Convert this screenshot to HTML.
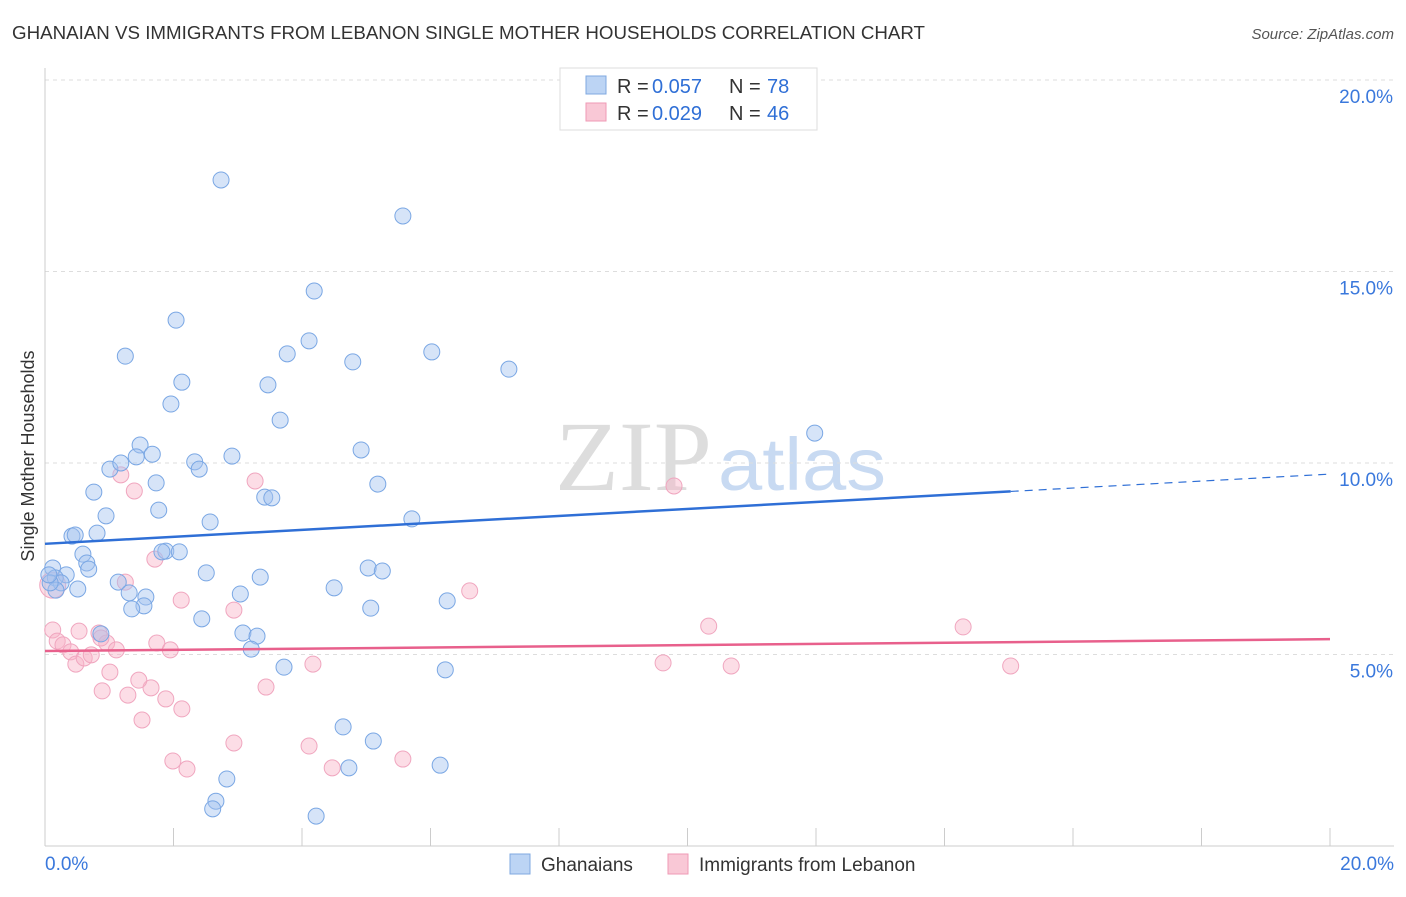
<!DOCTYPE html>
<html><head><meta charset="utf-8"><style>
body{margin:0;background:#fff;font-family:"Liberation Sans",sans-serif;}
</style></head><body>
<svg id="chart" width="1406" height="892" xmlns="http://www.w3.org/2000/svg" font-family="Liberation Sans, sans-serif">
<text x="12" y="39" font-size="18" fill="#333" textLength="913" lengthAdjust="spacingAndGlyphs">GHANAIAN VS IMMIGRANTS FROM LEBANON SINGLE MOTHER HOUSEHOLDS CORRELATION CHART</text>
<text x="1394" y="39" font-size="15" fill="#555" font-style="italic" text-anchor="end">Source: ZipAtlas.com</text>
<text x="555" y="490" font-size="100" fill="#ddd" font-family="Liberation Serif, serif" textLength="157" lengthAdjust="spacingAndGlyphs">ZIP</text>
<text x="718" y="490" font-size="74" fill="#c8daf2" textLength="168" lengthAdjust="spacingAndGlyphs">atlas</text>
<text transform="translate(34,456) rotate(-90)" font-size="18" fill="#333" text-anchor="middle">Single Mother Households</text>
<g id="grid"></g><g id="marks"></g>
<g>
<rect x="560" y="68" width="257" height="62" fill="#fff" stroke="#ddd"/>
<rect x="586" y="76" width="20" height="18" fill="#bcd4f4" stroke="#7fa8e0"/>
<rect x="586" y="103" width="20" height="18" fill="#f9c8d6" stroke="#ef9ab5"/>
<text x="617" y="93" font-size="20" fill="#333">R =</text><text x="652" y="93" font-size="20" fill="#2f6fd6">0.057</text>
<text x="729" y="93" font-size="20" fill="#333">N =</text><text x="767" y="93" font-size="20" fill="#2f6fd6">78</text>
<text x="617" y="120" font-size="20" fill="#333">R =</text><text x="652" y="120" font-size="20" fill="#2f6fd6">0.029</text>
<text x="729" y="120" font-size="20" fill="#333">N =</text><text x="767" y="120" font-size="20" fill="#2f6fd6">46</text>
</g>
<g>
<rect x="510" y="854" width="20" height="20" fill="#bcd4f4" stroke="#7fa8e0"/>
<text x="541" y="871" font-size="19" fill="#333">Ghanaians</text>
<rect x="668" y="854" width="20" height="20" fill="#f9c8d6" stroke="#ef9ab5"/>
<text x="699" y="871" font-size="19" fill="#333">Immigrants from Lebanon</text>
</g>
</svg>
<script>
const yTicks=[5,10,15,20];
const yTickLabels=["5.0%","10.0%","15.0%","20.0%"];
const blueX=[2.74,5.57,4.19,2.04,1.25,3.77,4.11,4.79,6.02,7.22,2.13,3.47,1.96,3.66,1.48,11.98,1.42,1.67,2.91,4.92,2.33,1.01,1.18,2.40,1.73,5.18,0.76,3.42,3.53,1.77,0.95,2.57,5.71,0.42,0.47,0.81,1.88,2.09,1.82,0.59,0.65,0.68,5.03,5.25,0.12,0.33,0.16,0.25,0.17,0.51,1.14,2.51,3.35,1.31,1.57,3.04,4.50,1.54,1.35,5.07,6.26,2.44,0.87,3.08,3.30,3.21,3.72,6.23,4.64,5.11,4.73,6.15,2.83,2.66,2.61,4.22,0.08,0.06];
const blueY=[17.39,16.45,14.49,13.73,12.79,12.85,13.19,12.64,12.90,12.45,12.11,12.04,11.54,11.12,10.47,10.78,10.16,10.23,10.18,10.34,10.03,9.84,10.00,9.84,9.48,9.45,9.24,9.11,9.09,8.77,8.62,8.46,8.54,8.09,8.12,8.17,7.70,7.68,7.68,7.62,7.39,7.23,7.26,7.18,7.26,7.08,7.00,6.87,6.68,6.71,6.89,7.13,7.02,6.61,6.50,6.58,6.74,6.27,6.19,6.21,6.40,5.93,5.54,5.56,5.48,5.14,4.67,4.60,3.11,2.74,2.04,2.11,1.75,1.17,0.97,0.78,6.87,7.08];
const pinkX=[0.12,0.12,0.19,0.28,0.53,0.40,0.48,0.61,0.72,0.84,0.96,1.11,1.18,1.39,1.25,1.01,0.89,1.29,1.65,1.46,1.88,2.13,1.51,1.74,1.95,1.71,2.12,2.94,3.27,3.44,2.94,4.17,4.11,4.47,1.99,2.21,5.57,6.61,9.79,10.33,9.62,10.68,14.29,15.03,0.87];
const pinkY=[6.81,5.64,5.35,5.25,5.61,5.07,4.75,4.91,4.99,5.56,5.30,5.12,9.69,9.27,6.89,4.54,4.05,3.94,4.13,4.33,3.84,3.58,3.29,5.30,5.12,7.49,6.42,6.16,9.53,4.15,2.69,4.75,2.61,2.04,2.22,2.01,2.27,6.66,9.40,5.74,4.78,4.70,5.72,4.70,5.43];
const blueTrend=[7.89,9.71], pinkTrend=[5.09,5.40], blueSolidEnd=15.03;
const NS="http://www.w3.org/2000/svg";
const sx=v=>45+v*64.25, sy=v=>846-v*38.3;
const grid=document.getElementById('grid'), marks=document.getElementById('marks');
function mk(p,tag,a){const e=document.createElementNS(NS,tag);for(const k in a)e.setAttribute(k,a[k]);p.appendChild(e);return e;}
yTicks.forEach((t,i)=>{
 const l=mk(grid,'line',{x1:45,x2:1394,y1:sy(t),y2:sy(t),stroke:'#ddd','stroke-dasharray':'4,4'});
 
 
 const tx=mk(grid,'text',{x:1393,y:sy(t)+23,'font-size':19,fill:'#3a78dc','text-anchor':'end'});
 tx.textContent=yTickLabels[i];
 
 
});
const ax=mk(grid,'line',{x1:45,x2:1394,y1:846,y2:846,stroke:'#ccc'});


const ay=mk(grid,'line',{x1:45,x2:45,y1:68,y2:846,stroke:'#ccc'});


for(let i=2;i<=20;i+=2){const t=mk(grid,'line',{x1:sx(i),x2:sx(i),y1:828,y2:846,stroke:'#ccc'});
 
 }
[[0,'0.0%','start',45],[20,'20.0%','end',1394]].forEach(d=>{const t=mk(grid,'text',{x:d[3],y:870,'font-size':19,fill:'#3a78dc','text-anchor':d[2]});t.textContent=d[1];
 
 });
pinkX.forEach((x,i)=>{const c=mk(marks,'circle',{cx:sx(x),cy:sy(pinkY[i]),r:i==0?13:8,fill:'rgba(248,180,200,0.45)',stroke:'#f0a6bf','stroke-width':1});
 
 });
blueX.forEach((x,i)=>{const c=mk(marks,'circle',{cx:sx(x),cy:sy(blueY[i]),r:8,fill:'rgba(164,196,240,0.45)',stroke:'#7aa7e4','stroke-width':1});
 
 });
const by=x=>blueTrend[0]+(blueTrend[1]-blueTrend[0])*x/20;
const b1=mk(marks,'line',{x1:sx(0),y1:sy(by(0)),x2:sx(blueSolidEnd),y2:sy(by(blueSolidEnd)),stroke:'#2f6fd6','stroke-width':2.5});


const b2=mk(marks,'line',{x1:sx(blueSolidEnd),y1:sy(by(blueSolidEnd)),x2:sx(20),y2:sy(by(20)),stroke:'#2f6fd6','stroke-width':1.2,'stroke-dasharray':'8,6'});


const p1=mk(marks,'line',{x1:sx(0),y1:sy(pinkTrend[0]),x2:sx(20),y2:sy(pinkTrend[1]),stroke:'#e8608c','stroke-width':2.5});


</script>
</body></html>
